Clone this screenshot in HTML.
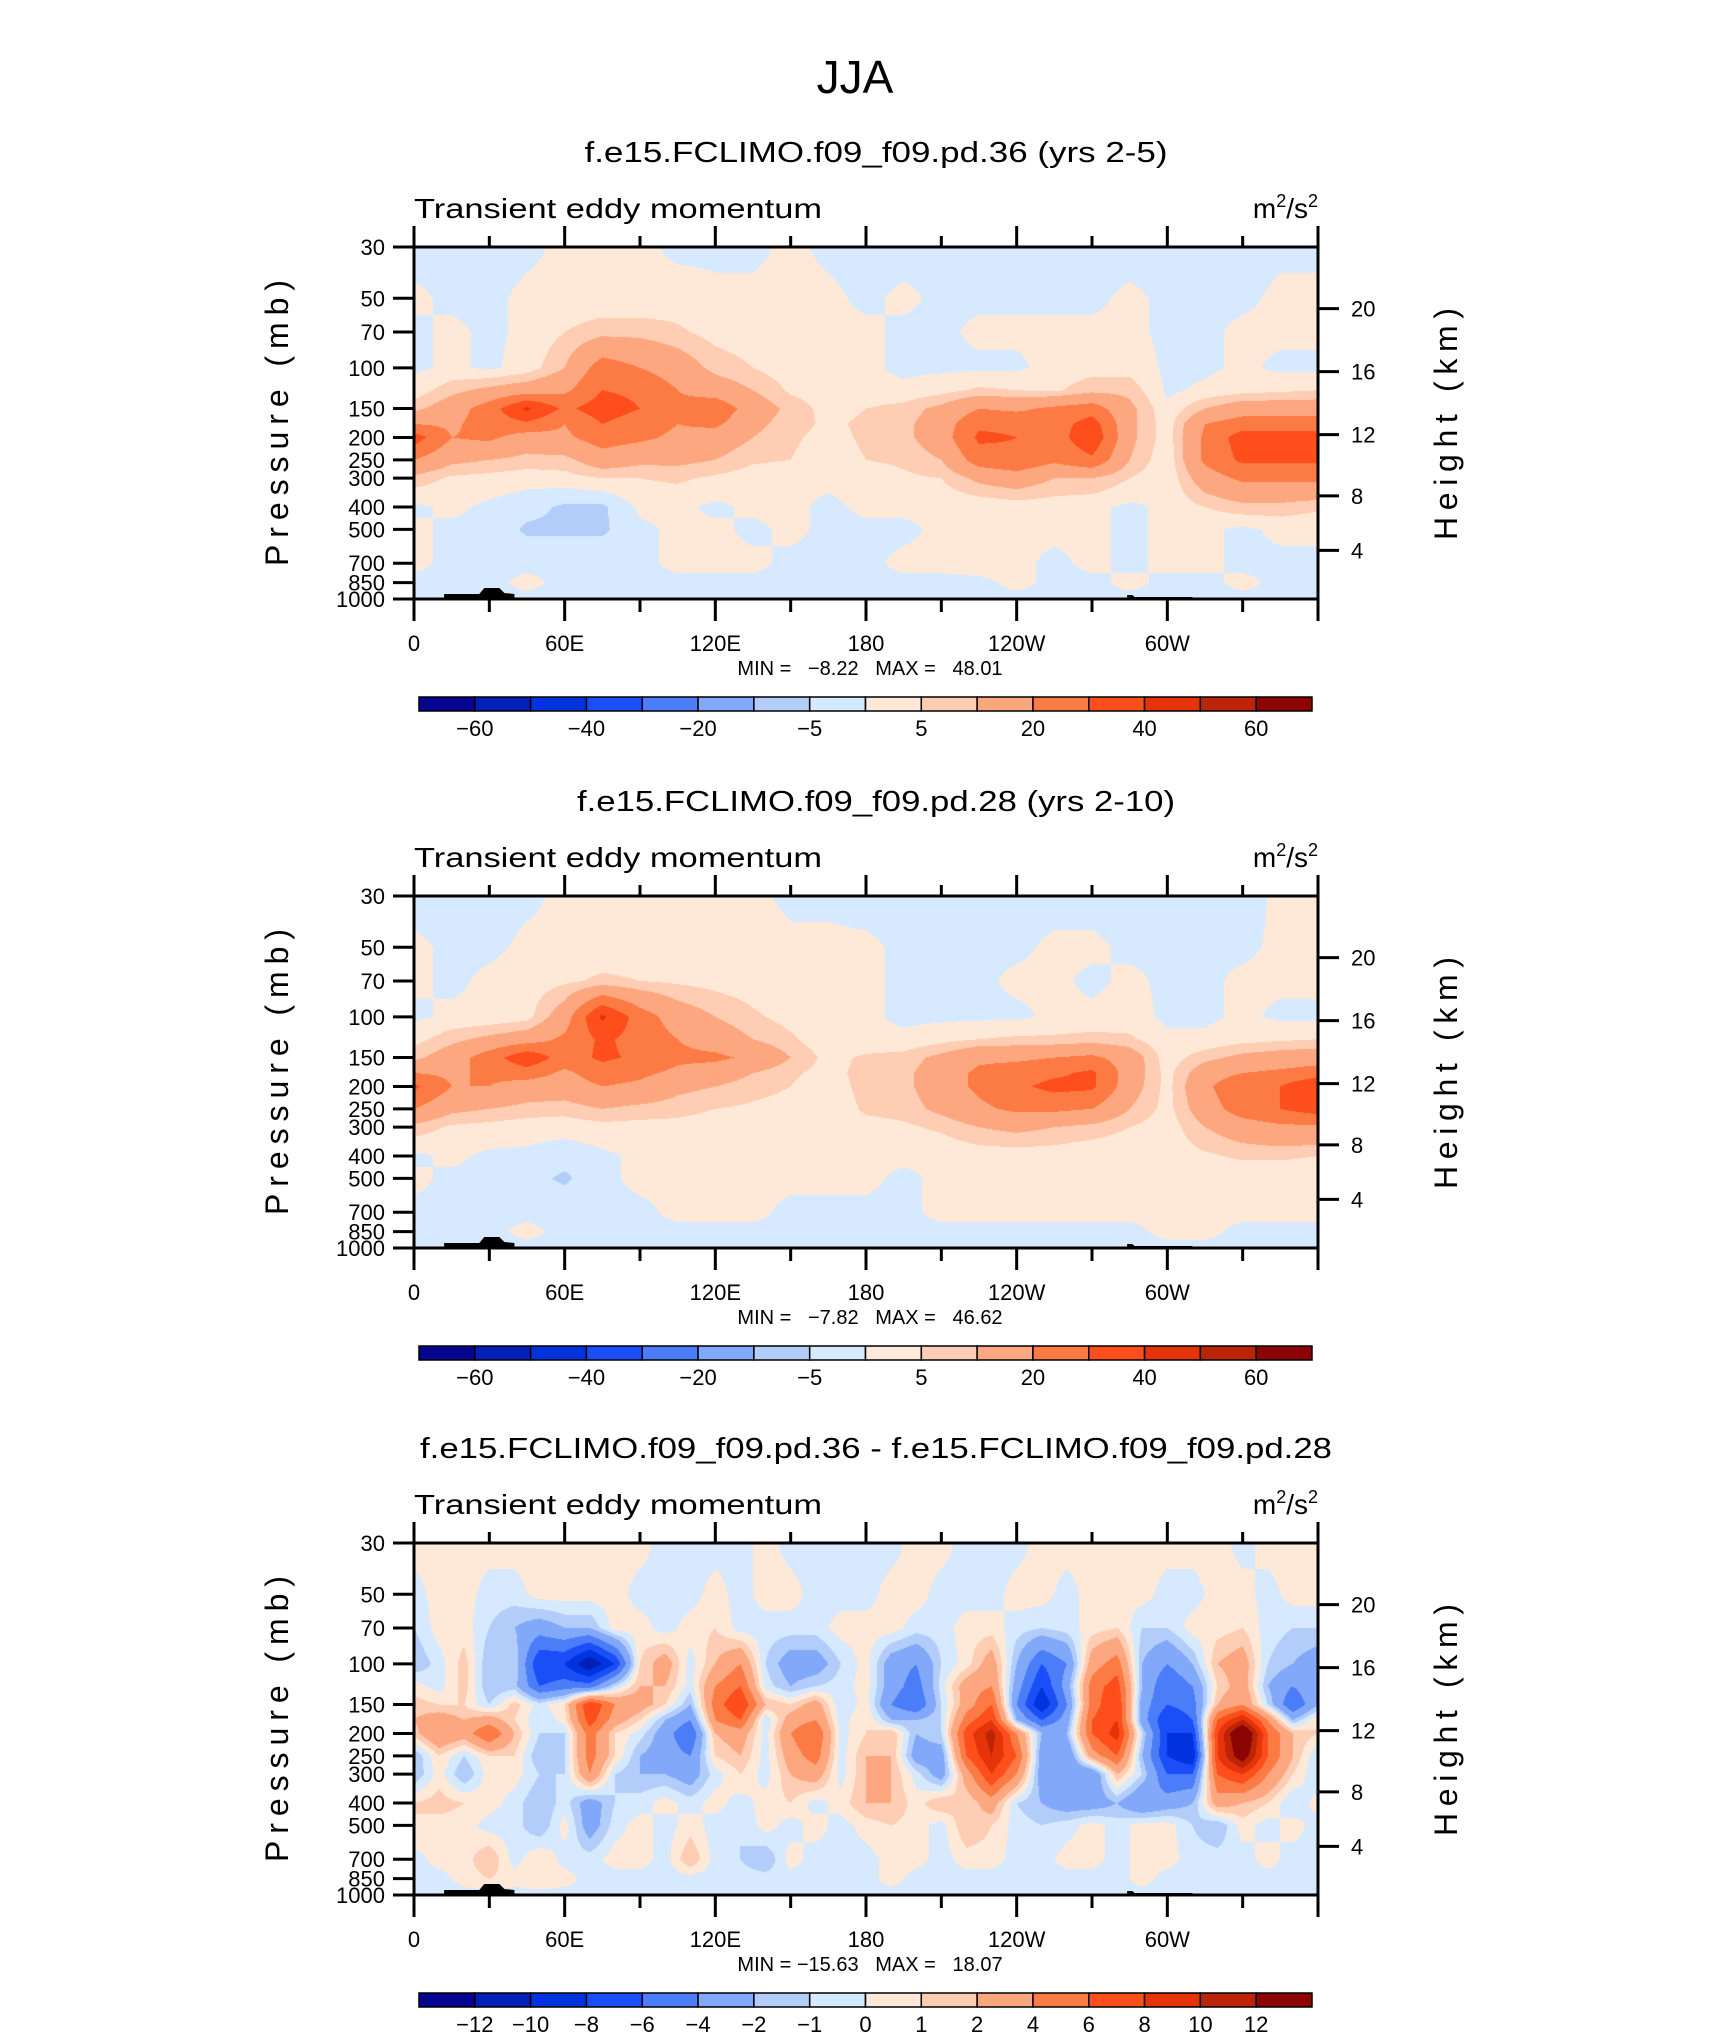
<!DOCTYPE html>
<html><head><meta charset="utf-8"><style>
html,body{margin:0;padding:0;background:#fff;}
#wrap{position:relative;width:1710px;height:2038px;overflow:hidden;background:#fff;}
canvas{position:absolute;}
svg{position:absolute;left:0;top:0;}
text{font-family:"Liberation Sans",sans-serif;fill:#000;}
.pre{white-space:pre;}
</style></head><body>
<div id="wrap">
<canvas id="c1" width="904" height="352" style="left:414px;top:247px"></canvas>
<canvas id="c2" width="904" height="352" style="left:414px;top:896px"></canvas>
<canvas id="c3" width="904" height="352" style="left:414px;top:1543px"></canvas>
<svg id="ov" width="1710" height="2038">
<text x="855" y="93" font-size="46" text-anchor="middle" font-weight="300">JJA</text>
</svg>
</div>
<script>
// ---- data ----
const levelsP = [30,50,70,100,125,150,175,200,250,300,400,500,700,850,1000];
const lons15 = [0,15,30,45,60,75,90,105,120,135,150,165,180,195,210,225,240,255,270,285,300,315,330,345,360];
const lons10 = [0,10,20,30,40,50,60,70,80,90,100,110,120,130,140,150,160,170,180,190,200,210,220,230,240,250,260,270,280,290,300,310,320,330,340,350,360];
const contourLevelsMean = [-60,-50,-40,-30,-20,-10,-5,0,5,10,20,30,40,50,60];
const contourLevelsDiff = [-12,-10,-8,-6,-4,-2,-1,0,1,2,4,6,8,10,12];
const colorTable = ["#05058f","#0020b8","#0033e0","#1a4ff8","#4c7df8","#82a8fa","#b3cdfb","#d6e9fe","#fee9d8","#fecdb3","#fca77f","#fc7b44","#fd4e1c","#e5330a","#bb2404","#8c0404"];
const meanLabels = ["-60","","-40","","-20","","-5","","5","","20","","40","","60"];
const diffLabels = ["-12","-10","-8","-6","-4","-2","-1","0","1","2","4","6","8","10","12"];
const lonTickLabels = ["0","60E","120E","180","120W","60W"];
const pTickLabels = [30,50,70,100,150,200,250,300,400,500,700,850,1000];
const heightTicks = [20,16,12,8,4];
const panelTitles = ["f.e15.FCLIMO.f09_f09.pd.36 (yrs 2-5)","f.e15.FCLIMO.f09_f09.pd.28 (yrs 2-10)","f.e15.FCLIMO.f09_f09.pd.36 - f.e15.FCLIMO.f09_f09.pd.28"];
const minMaxText = ["MIN =   \u22128.22   MAX =   48.01","MIN =   \u22127.82   MAX =   46.62","MIN = \u221215.63   MAX =   18.07"];

const field1 = [
[-2,-2,-2,-1,1,1,1,-1,-1,-1,1,-1,-2,-2,-2,-2,-2,-2,-2,-2,-2,-2,-2,-1,-1],
[1,-1,-1,1,1,1,1,2,1,1,1,1,-1,1,-1,-1,-1,-1,-1,1,-1,-1,-1,1,1],
[-1,1,-1,1,5,8,8,6,3,2,1,1,1,-1,-1,1,1,1,1,1,-1,-1,1,1,1],
[-1,1,-1,2,10,25,20,15,8,5,2,1,1,-1,-1,-1,-1,2,3,3,-1,-1,1,-1,-1],
[2,8,12,15,18,30,28,20,15,10,4,2,1,1,3,6,5,4,8,8,-1,1,3,4,5],
[8,15,25,42,28,35,30,22,27,15,8,3,5,7,12,20,18,22,25,12,1,10,15,15,15],
[20,18,25,28,20,30,25,20,22,12,7,4,6,8,15,28,28,25,35,12,2,20,25,25,25],
[35,20,22,15,18,25,22,18,15,10,6,3,6,8,15,32,30,25,38,12,2,22,35,34,35],
[20,12,10,8,8,15,12,12,10,6,5,2,5,6,10,25,28,22,28,10,1,22,32,32,32],
[8,4,3,2,3,5,5,6,4,2,1,1,2,4,5,12,15,10,10,5,1,15,22,22,22],
[-1,1,-1,-3,-6,-6,1,1,-1,1,1,-1,1,1,1,1,2,2,1,-1,1,5,8,8,6],
[1,-1,-1,-6,-6,-6,-1,1,1,-1,1,-1,-1,-1,1,1,1,1,1,-1,1,1,-1,1,1],
[1,-1,-1,-1,-1,-1,-1,1,1,1,-1,-1,-1,1,1,2,1,-1,1,-1,1,1,-1,-1,-1],
[-1,-1,-1,1,-1,-1,-1,-1,-1,-1,-1,-1,-1,-1,-1,-1,1,-1,-1,1,-1,-1,1,-1,-1],
[-1,-1,-1,-1,-1,-1,-1,-1,-1,-1,-1,-1,-1,-1,-1,-1,-1,-1,-1,-1,-1,-1,-1,-1,-1]
];
const field2 = [
[-2,-2,-2,-1,1,1,1,1,1,1,-1,-1,-2,-2,-2,-2,-2,-2,-2,-2,-2,-2,-2,1,1],
[1,-1,-1,1,1,2,2,2,2,2,1,1,1,-1,-1,-1,-1,1,1,-1,-1,-1,-1,1,1],
[1,-1,1,2,4,6,5,4,3,2,1,1,1,-1,-1,-1,1,1,-1,1,-1,-1,1,1,1],
[-1,1,1,3,15,42,25,15,10,6,3,1,1,-1,-1,-1,-1,1,1,2,-1,-1,1,-1,-1],
[3,8,12,15,22,32,26,20,15,10,6,1,1,1,3,5,6,6,7,6,1,1,3,4,5],
[8,15,25,38,25,32,28,22,22,18,10,3,6,7,12,18,18,20,22,15,2,8,12,14,15],
[20,18,22,25,18,25,22,18,15,10,6,3,7,8,15,22,25,28,32,15,3,15,20,22,25],
[32,20,20,15,15,20,18,12,10,7,5,2,7,8,15,22,28,33,32,14,3,18,28,30,40],
[20,12,10,8,7,10,8,7,5,4,3,1,6,7,12,18,22,22,20,10,3,15,25,30,35],
[8,4,3,2,2,3,3,3,2,2,1,1,3,4,6,10,12,10,8,5,2,10,15,18,18],
[-1,1,-1,-1,-3,-1,1,2,1,2,1,1,1,1,1,2,2,2,1,1,2,4,6,6,5],
[1,-1,-1,-3,-6,-1,1,1,1,1,1,1,1,-1,1,1,1,1,1,1,1,1,1,1,1],
[-1,-1,-1,-1,-1,-1,-1,1,1,1,-1,-1,-1,-1,1,1,1,1,1,1,1,1,1,1,1],
[-1,-1,-1,1,-1,-1,-1,-1,-1,-1,-1,-1,-1,-1,-1,-1,-1,-1,-1,-1,1,1,-1,-1,-1],
[-1,-1,-1,-1,-1,-1,-1,-1,-1,-1,-1,-1,-1,-1,-1,-1,-1,-1,-1,-1,-1,-1,-1,-1,-1]
];
const field3 = [
[.5,.5,.5,.5,.5,.5,.5,.5,.5,.5,-.5,-.5,-.5,-.5,.5,-.5,-.5,-.5,-.5,-.5,.5,.5,-.5,-.5,-.5,.5,.5,.5,.5,.5,.5,.5,.5,-.5,.5,.5,.5],
[-.5,.5,.5,-.5,-.5,.5,.5,.5,.5,-.5,-.5,-.5,.5,-.5,.5,.5,-.5,-.5,-.5,.5,.5,-.5,-.5,-.5,.5,.5,-.5,.5,.5,.5,-.5,-.5,.5,.5,-.5,.5,.5],
[-1,.5,.5,-1,-2,-3,-2,-2,.5,.5,-.5,.5,1,-.5,-.5,-.5,-.5,.5,.5,.5,-.5,-.5,.5,.5,-.5,-1,-.5,.5,1,-1,-1,.5,.5,1,-.5,-1,-1],
[-2,-.5,1.5,-2,-1,-8,-8,-12,-8,1,3,-.5,2,4,-1,-3,-3,-1,.5,-3,-4,-1,.5,3,-2,-6,-4,3,5,-2,-4,-2,2,3,-1,-2,-3],
[.5,-.5,1.5,-2,-1.5,-6,-5,-5,-1,2,2,-.5,4,6,-.5,-2,-1,-.5,.5,-3,-5,-.5,3,4,-3,-8,-3,5,7,-2,-6,-4,1,3,-2,-4,-2],
[1.5,1,1,-1,1.5,-.5,1,8,4,3,1,-2,5,8,2,1,3,-1,.5,-4,-6,-1,3,6,-4,-10,-4,5,8,-3,-6,-5,2,4,-1,-6,-2],
[2,3,2,3,1,-1,.5,7,3,1,-2,-4,4,6,-1,3,4,-.5,1,-2,-2,-1,5,8,-2,-6,-3,6,8,-3,-8,-6,6,10,4,-2,1],
[1.5,4,3,6,2,-1,-1,5,1,-.5,-3,-6,2,3,-.5,4,6,-.5,1,2,-2,-1,7,11,4,-2,-2,6,9,-1,-8,-8,8,16,6,2,1],
[-2,1,-1,1,1,-2,-1,5,1,-2,-3,-4,1,2,-.5,3,5,-.5,2,2,-3,-3,6,10,6,-3,-4,3,6,-2,-8,-10,8,14,6,2,-1],
[-2,.5,-2,.5,.5,-1,-1,4,-1,-2,-2,-3,-.5,1,-.5,2,3,-.5,2,2,-.5,-3,3,8,4,-3,-4,-4,2,-1,-6,-6,6,8,4,1,-1],
[1,1.5,1,.5,-.5,-2,-.5,-3,-1,-.5,.5,-.5,.5,-.5,.5,1,-.5,.5,2,2,.5,2,1,3,-1,-2,-3,-3,-2,-4,-3,-2,3,2,1,-1,.5],
[1,.5,.5,-.5,-.5,-2,.5,-3,-.5,.5,-.5,.5,-.5,-1,.5,-.5,.5,-.5,.5,1,.5,-.5,2,1,-.5,-1,-.5,.5,-.5,.5,.5,-1,-2,.5,-.5,.5,-.5],
[-.5,.5,.5,2,-.5,1,-.5,-.5,.5,.5,-.5,2,-.5,-1,-2,.5,-.5,-.5,-.5,.5,.5,-.5,.5,.5,-.5,-.5,.5,.5,-.5,.5,.5,-.5,-.5,-.5,.5,-.5,-.5],
[-.5,-.5,.5,1,.5,1,.5,-.5,-.5,-.5,-.5,-.5,-.5,-.5,-.5,-.5,-.5,-.5,-.5,.5,-.5,-.5,-.5,-.5,-.5,-.5,-.5,-.5,-.5,.5,-.5,-.5,-.5,-.5,-.5,-.5,-.5],
[-.5,-.5,-.5,-.5,-.5,-.5,-.5,-.5,-.5,-.5,-.5,-.5,-.5,-.5,-.5,-.5,-.5,-.5,-.5,-.5,-.5,-.5,-.5,-.5,-.5,-.5,-.5,-.5,-.5,-.5,-.5,-.5,-.5,-.5,-.5,-.5,-.5]
];

// ---- geometry ----
const PL=414, PW=904, PH=352;
const panelTops=[247,896,1543];
const lonToX = lon => PL + lon/360*PW;
const pFrac = p => Math.log(p/30)/Math.log(1000/30);
const pToY = (top,p) => top + pFrac(p)*PH;
const hFrac = {20:0.175,16:0.354,12:0.533,8:0.707,4:0.862};

function colorIndex(v, lev){ let i=0; while(i<lev.length && v>=lev[i]) i++; return i; }
function hexRgb(h){return [parseInt(h.substr(1,2),16),parseInt(h.substr(3,2),16),parseInt(h.substr(5,2),16)];}
const rgbTable = colorTable.map(hexRgb);

function drawField(canvasId, field, lons, lev){
  const cv=document.getElementById(canvasId), ctx=cv.getContext('2d');
  const img=ctx.createImageData(PW,PH);
  const lf = levelsP.map(pFrac);
  for(let y=0;y<PH;y++){
    const f=(y+0.5)/PH;
    let j=0; while(j<lf.length-2 && f>lf[j+1]) j++;
    const ty=Math.min(1,Math.max(0,(f-lf[j])/(lf[j+1]-lf[j])));
    for(let x=0;x<PW;x++){
      const lon=(x+0.5)/PW*360;
      let i=0; while(i<lons.length-2 && lon>lons[i+1]) i++;
      const tx=(lon-lons[i])/(lons[i+1]-lons[i]);
      const v=(field[j][i]*(1-tx)+field[j][i+1]*tx)*(1-ty)+(field[j+1][i]*(1-tx)+field[j+1][i+1]*tx)*ty;
      const c=rgbTable[colorIndex(v,lev)];
      const k=(y*PW+x)*4; img.data[k]=c[0];img.data[k+1]=c[1];img.data[k+2]=c[2];img.data[k+3]=255;
    }
  }
  ctx.putImageData(img,0,0);
}
drawField('c1',field1,lons15,contourLevelsMean);
drawField('c2',field2,lons15,contourLevelsMean);
drawField('c3',field3,lons10,contourLevelsDiff);

// ---- overlay ----
const NS='http://www.w3.org/2000/svg';
const svg=document.getElementById('ov');
function mk(tag,attrs,parent){const e=document.createElementNS(NS,tag);for(const k in attrs)e.setAttribute(k,attrs[k]);(parent||svg).appendChild(e);return e;}

panelTops.forEach((T,pi)=>{
  const g=mk('g',{});
  
  
  const t=mk('text',{x:876,y:T-85,'font-size':29,'text-anchor':'middle',textLength:pi==2?912:(pi==0?583:598),lengthAdjust:'spacingAndGlyphs'},g);
  t.textContent=panelTitles[pi];
  
  
  const lt=mk('text',{x:414,y:T-29,'font-size':28,textLength:408,lengthAdjust:'spacingAndGlyphs'},g);
  lt.textContent='Transient eddy momentum';
  
  
  const ut=mk('text',{x:1318,y:T-29,'font-size':28,'text-anchor':'end'},g);
  ut.innerHTML='m<tspan font-size="18" dy="-11">2</tspan><tspan dy="11">/s</tspan><tspan font-size="18" dy="-11">2</tspan>';
  
  
  const topo=mk('path',{d:`M${lonToX(12)},${T+PH} L${lonToX(12)},${T+PH-5} L${lonToX(26)},${T+PH-5} L${lonToX(28)},${T+PH-11} L${lonToX(34)},${T+PH-11} L${lonToX(36)},${T+PH-6} L${lonToX(40)},${T+PH-5} L${lonToX(40)},${T+PH} Z M${lonToX(284)},${T+PH} L${lonToX(284)},${T+PH-4} L${lonToX(286)},${T+PH-4} L${lonToX(287)},${T+PH-2} L${lonToX(310)},${T+PH-2} L${lonToX(310)},${T+PH} Z`,fill:'#000'},g);
  
  
  const fr=mk('rect',{x:PL,y:T,width:PW,height:PH,fill:'none',stroke:'#000','stroke-width':3},g);
  
  
  for(let lon=0;lon<=360;lon+=30){
    const x=lonToX(lon), major=lon%60==0;
    mk('line',{x1:x,y1:T+PH,x2:x,y2:T+PH+(major?22:13),stroke:'#000','stroke-width':3},g);
    mk('line',{x1:x,y1:T,x2:x,y2:T-(major?21:11),stroke:'#000','stroke-width':3},g);
  }
  lonTickLabels.forEach((lab,k)=>{
    const tx=mk('text',{x:lonToX(k*60),y:T+404,'font-size':22,'text-anchor':'middle'},g);
    tx.textContent=lab;
    
    
  });
  const mm=mk('text',{x:870,y:T+428,'font-size':20,'text-anchor':'middle','class':'pre'},g);
  mm.textContent=minMaxText[pi];
  
  
  pTickLabels.forEach(p=>{
    const y=pToY(T,p);
    mk('line',{x1:PL-21,y1:y,x2:PL,y2:y,stroke:'#000','stroke-width':3},g);
    const tx=mk('text',{x:PL-29,y:y+8,'font-size':22,'text-anchor':'end'},g);
    tx.textContent=String(p);
    
    
  });
  heightTicks.forEach(h=>{
    const y=T+hFrac[h]*PH;
    mk('line',{x1:PL+PW,y1:y,x2:PL+PW+21,y2:y,stroke:'#000','stroke-width':3},g);
    const tx=mk('text',{x:PL+PW+33,y:y+8,'font-size':22},g);
    tx.textContent=String(h);
    
    
  });
  const ya=mk('text',{x:0,y:0,'font-size':32,'text-anchor':'middle',transform:`translate(288,${T+176}) rotate(-90)`,textLength:286,lengthAdjust:'spacing'},g);
  ya.textContent='Pressure  (mb)';
  
  
  const ya2=mk('text',{x:0,y:0,'font-size':32,'text-anchor':'middle',transform:`translate(1457,${T+177}) rotate(-90)`,textLength:232,lengthAdjust:'spacing'},g);
  ya2.textContent='Height  (km)';
  
  
  const cb=mk('g',{},g);
  
  
  const cbx=419, cbw=893, cby=T+450, cbh=14, bw=cbw/16;
  colorTable.forEach((c,k)=>{
    const r=mk('rect',{x:cbx+k*bw,y:cby,width:bw,height:cbh,fill:c,stroke:'#000','stroke-width':1.5},cb);
    
    
  });
  const labs=pi==2?diffLabels:meanLabels;
  labs.forEach((lab,k)=>{
    if(!lab) return;
    const tx=mk('text',{x:cbx+(k+1)*bw,y:cby+39,'font-size':22,'text-anchor':'middle'},cb);
    tx.textContent=lab.replace('-','\u2212');
    
    
  });
});
</script>
</body></html>
